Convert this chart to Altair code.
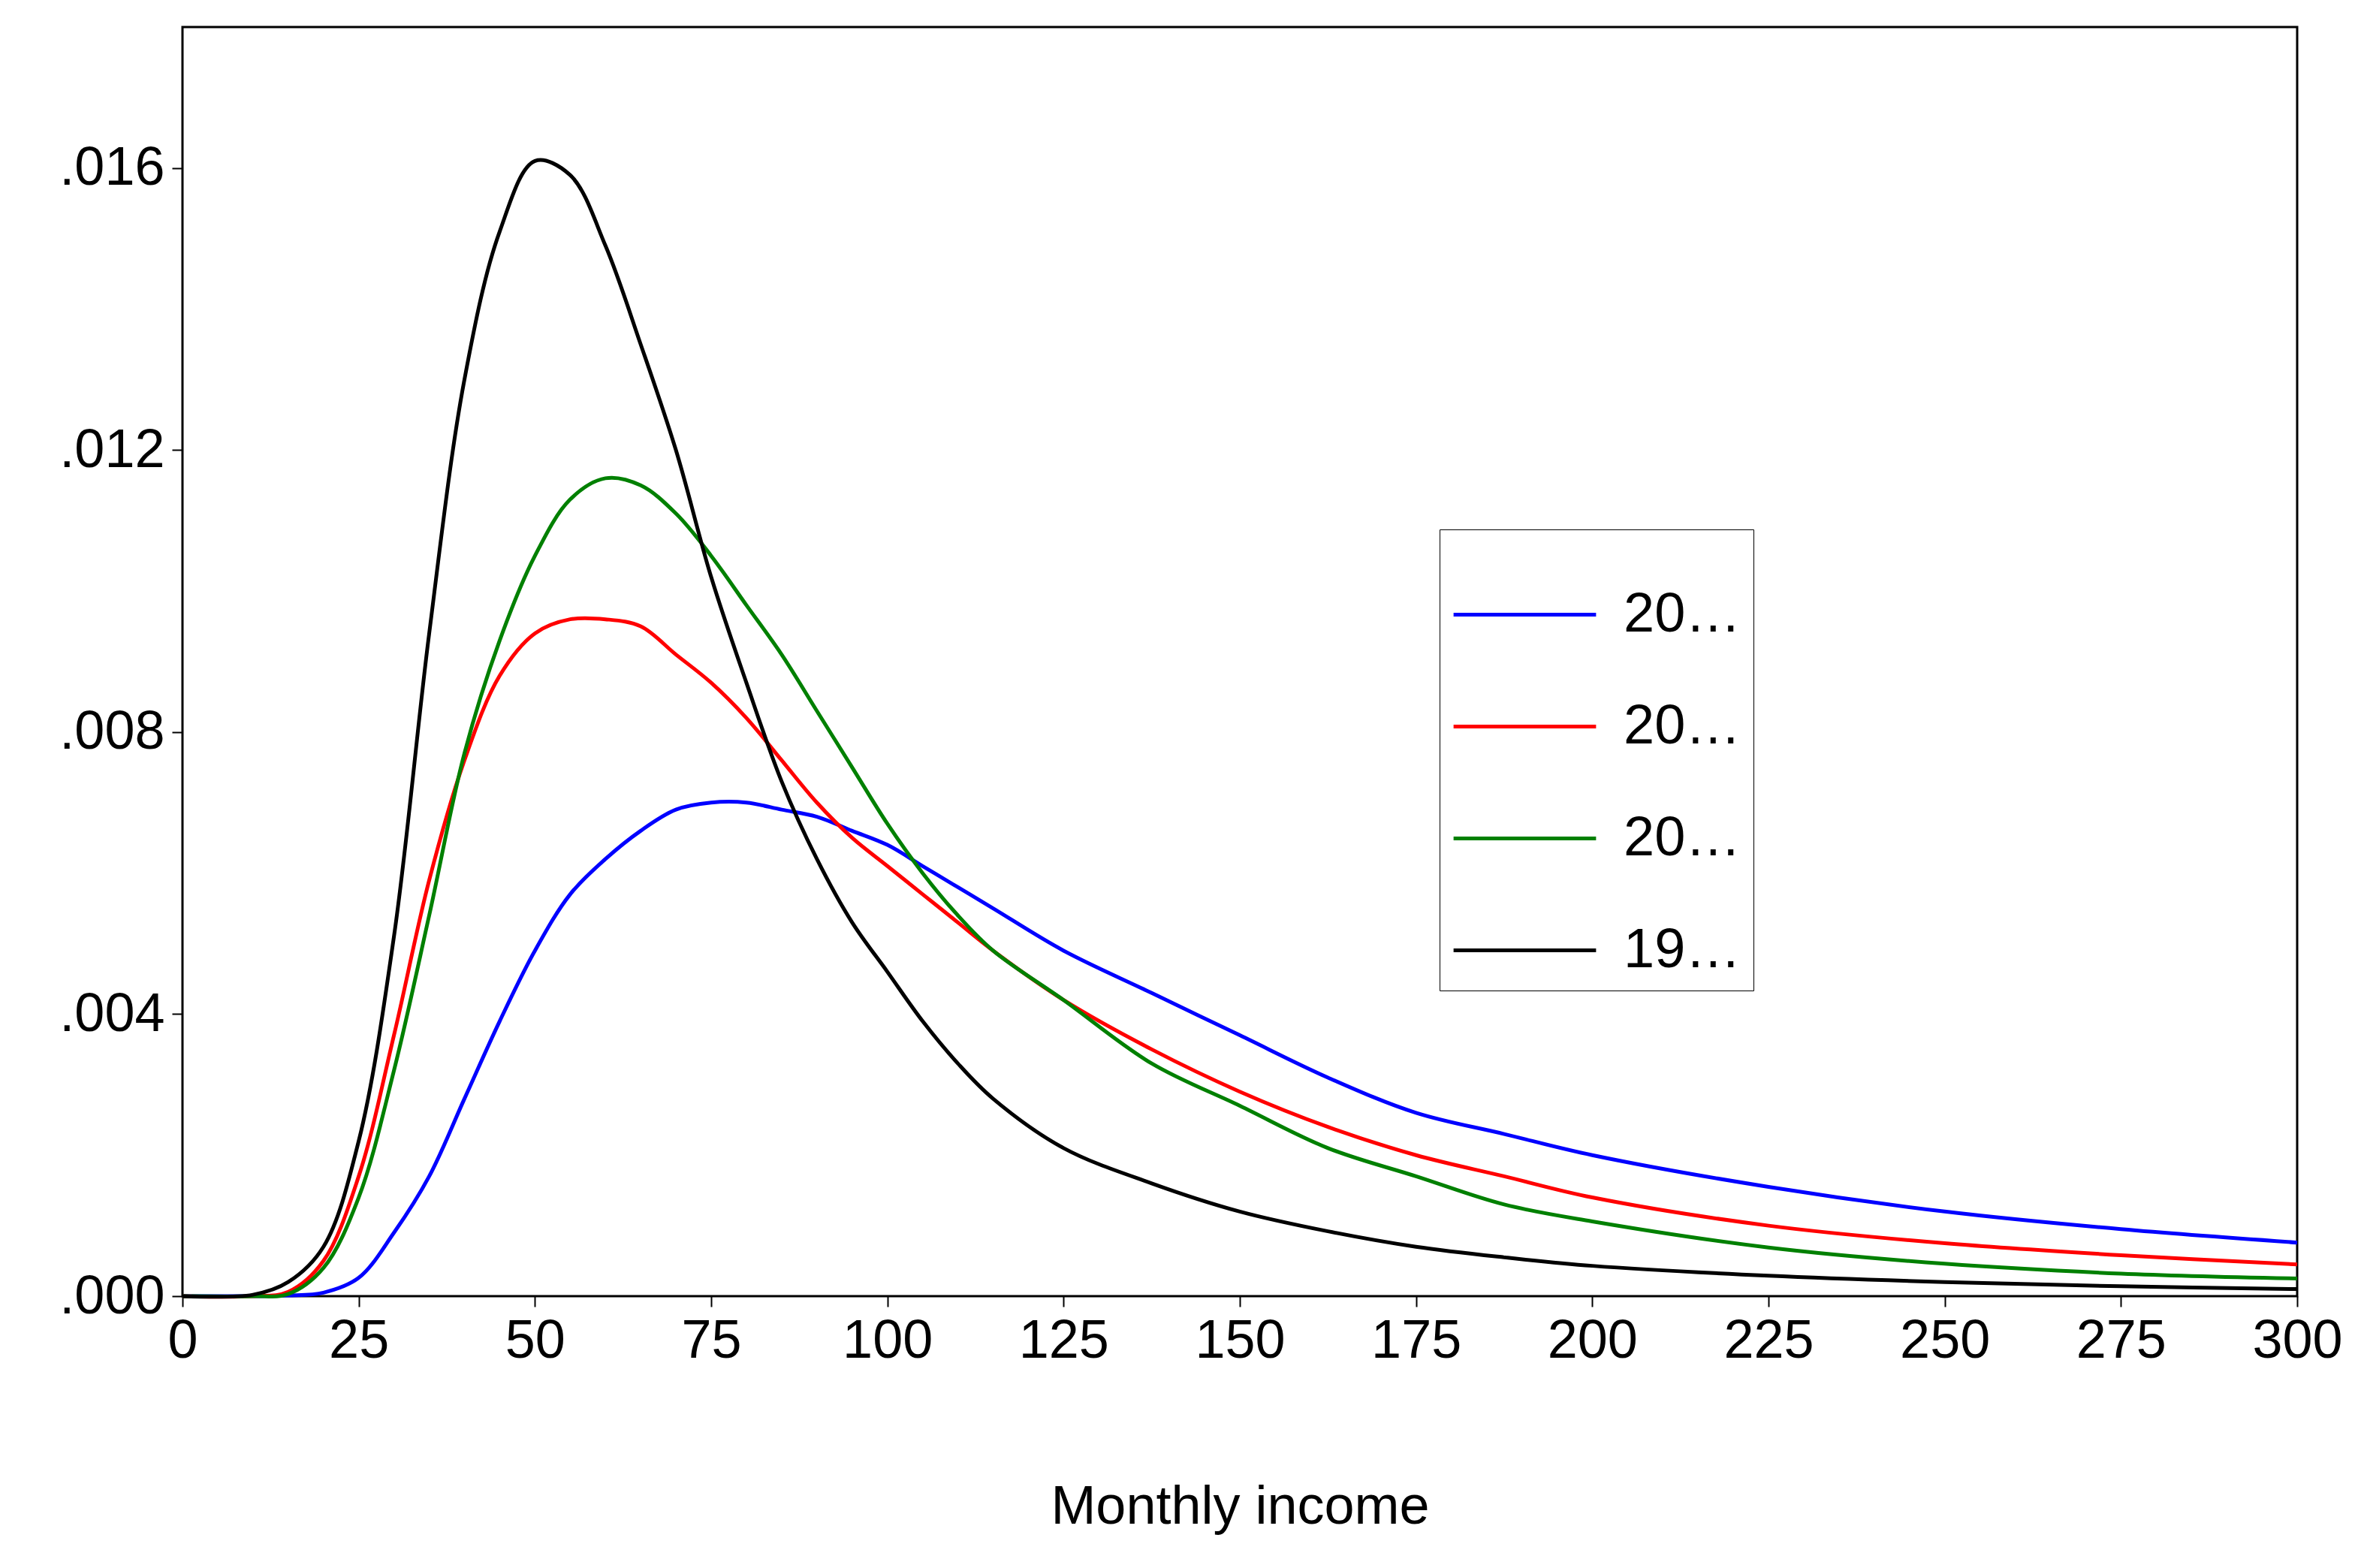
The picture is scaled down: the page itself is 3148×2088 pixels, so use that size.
import altair as alt
import pandas as pd

x_pts = [0, 10, 15, 20, 25, 30, 35, 40, 45, 50, 55, 60, 65, 70, 75, 80, 85, 90, 95, 100,
         105, 110, 115, 125, 137.5, 150, 162.5, 175, 187.5, 200, 225, 250, 275, 300]

y1999 = [0, 0.00002, 0.0002, 0.0007, 0.0022, 0.0051, 0.0094, 0.0130, 0.0151, 0.0161, 0.0159, 0.0149,
         0.0135, 0.0120, 0.0102, 0.0087, 0.0073, 0.0062, 0.0053, 0.0046, 0.0039, 0.0033, 0.0028, 0.0021,
         0.0016, 0.0012, 0.00092, 0.0007, 0.00055, 0.00043, 0.00029, 0.0002, 0.00014, 0.0001]
y2005 = [0, 0.0, 0.00003, 0.0004, 0.0014, 0.0032, 0.0054, 0.0077, 0.0093, 0.0105, 0.0113, 0.0116,
         0.0115, 0.0111, 0.0105, 0.0098, 0.0091, 0.0083, 0.0075, 0.0067, 0.0060, 0.0054, 0.0049, 0.0042,
         0.0033, 0.0027, 0.0021, 0.0017, 0.0013, 0.00106, 0.00069, 0.00046, 0.00032, 0.00025]
y2010 = [0, 0.0, 0.00006, 0.0005, 0.0017, 0.0037, 0.0059, 0.0076, 0.0088, 0.0094, 0.0096, 0.0096,
         0.0095, 0.0091, 0.0087, 0.0082, 0.0076, 0.0070, 0.0065, 0.0061, 0.0057, 0.0053, 0.0049, 0.0042,
         0.0035, 0.0029, 0.0024, 0.0020, 0.0017, 0.0014, 0.0010, 0.00075, 0.00058, 0.00045]
y2016 = [0, 0.0, 0.00001, 0.00005, 0.00026, 0.0009, 0.0017, 0.0028, 0.0039, 0.0049, 0.0057, 0.0062,
         0.0066, 0.0069, 0.0070, 0.0070, 0.0069, 0.0068, 0.0066, 0.0064, 0.0061, 0.0058, 0.0055, 0.0049,
         0.0043, 0.0037, 0.0031, 0.0026, 0.0023, 0.0020, 0.00155, 0.0012, 0.00095, 0.00076]

series = {"2016": y2016, "2010": y2010, "2005": y2005, "1999": y1999}
order = ["2016", "2010", "2005", "1999"]
colors = ["#0000FF", "#FF0000", "#008000", "#000000"]

rows = []
for name, ys in series.items():
    for xv, yv in zip(x_pts, ys):
        rows.append({"x": xv, "y": yv, "series": name})
df = pd.DataFrame(rows)

chart = alt.Chart(df).mark_line(strokeWidth=5, interpolate="catmull-rom").encode(
    x=alt.X("x:Q", scale=alt.Scale(domain=[0, 300], nice=False),
            axis=alt.Axis(values=list(range(0, 301, 25)), title="Monthly income",
                          titlePadding=150, format="d", labelFlush=False)),
    y=alt.Y("y:Q", scale=alt.Scale(domain=[0, 0.018], nice=False),
            axis=alt.Axis(values=[0, 0.004, 0.008, 0.012, 0.016], title=None,
                          labelExpr="substring(format(datum.value, '.3f'), 1)")),
    color=alt.Color("series:N", sort=order,
                    scale=alt.Scale(domain=order, range=colors),
                    legend=alt.Legend(title=None, orient="none", legendX=1674, legendY=669,
                                      symbolType="stroke", symbolStrokeWidth=5, symbolSize=36000,
                                      labelFontSize=74, labelFont="Liberation Sans",
                                      strokeColor="black", fillColor="white", padding=16,
                                      rowPadding=14, labelOffset=34, offset=0)),
    order=alt.Order("series:N"),
).properties(
    width=2816, height=1690,
    padding={"left": 235, "top": 28, "right": 81, "bottom": 354},
    autosize=alt.AutoSizeParams(type="none"),
).configure_view(
    stroke="black", strokeWidth=3
).configure_axis(
    grid=False, domain=False, labelFontSize=72, labelFont="Liberation Sans",
    labelColor="black", tickColor="black", tickSize=14, tickWidth=2,
    titleFontSize=72, titleFont="Liberation Sans", titleFontWeight="normal", titleColor="black",
    labelPadding=10,
)

chart.save("out.html", embed_options={"renderer": "svg", "actions": False})
